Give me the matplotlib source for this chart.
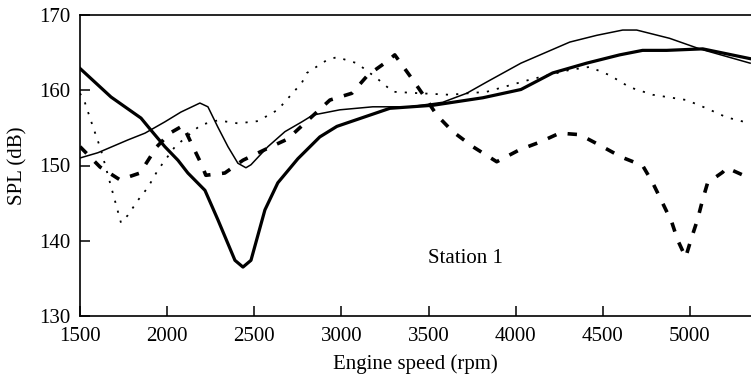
import matplotlib
matplotlib.use("Agg")
import matplotlib.pyplot as plt

# thick solid line
rpm_a = [1500, 1678, 1850, 1907, 1987, 2062, 2119, 2217, 2291, 2389, 2435, 2481,
         2561, 2635, 2750, 2876, 2974, 3278, 3524, 3811, 4030, 4212, 4407, 4596,
         4728, 4866, 5073, 5345]
spl_a = [162.9, 159.1, 156.3, 154.7, 152.5, 150.7, 149.0, 146.7, 142.8, 137.4, 136.5, 137.4,
         144.1, 147.7, 150.9, 153.8, 155.2, 157.6, 158.0, 159.0, 160.1, 162.3, 163.6, 164.7,
         165.3, 165.3, 165.5, 164.2]

# thin solid line
rpm_b = [1500, 1603, 1775, 1873, 1987, 2079, 2188, 2234, 2291, 2349, 2406, 2452, 2481,
         2578, 2676, 2773, 2836, 2991, 3180, 3392, 3581, 3719, 3834, 4030, 4310, 4465,
         4614, 4694, 4883, 5055, 5345]
spl_b = [151.0, 151.7, 153.4, 154.3, 155.8, 157.1, 158.3, 157.8, 155.1, 152.5, 150.3, 149.7, 150.1,
         152.5, 154.5, 155.8, 156.7, 157.4, 157.8, 157.8, 158.4, 159.6, 161.1, 163.6, 166.4, 167.3,
         168.0, 168.0, 166.9, 165.5, 163.6]

# dotted line
rpm_c = [1500, 1529, 1575, 1620, 1689, 1735, 1775, 1833, 1890, 1947, 2045, 2136, 2194,
         2291, 2406, 2521, 2635, 2773, 2802, 2916, 2974, 3088, 3203, 3295, 3450, 3622,
         3834, 4080, 4310, 4424, 4539, 4654, 4786, 4980, 5095, 5210, 5345]
spl_c = [159.6, 158.3, 155.1, 152.1, 146.3, 142.4, 143.4, 145.4, 147.1, 149.4, 152.5, 154.3, 155.4,
         156.0, 155.6, 155.9, 157.4, 161.0, 162.3, 164.0, 164.4, 163.6, 161.6, 159.8, 159.6, 159.4,
         159.8, 161.4, 162.7, 163.1, 162.0, 160.4, 159.4, 158.7, 157.6, 156.4, 155.6]

# thick dashed line
rpm_d = [1500, 1615, 1729, 1844, 1941, 2016, 2091, 2148, 2194, 2222, 2331, 2435, 2578,
         2690, 2779, 2934, 3060, 3151, 3260, 3306, 3409, 3490, 3547, 3639, 3754, 3891,
         4023, 4138, 4252, 4367, 4482, 4608, 4728, 4786, 4843, 4895, 4929, 4975, 5009,
         5043, 5072, 5101, 5187, 5210, 5345]
spl_d = [152.5, 149.8, 148.1, 149.0, 152.5, 154.3, 155.3, 152.5, 150.3, 148.7, 149.0, 150.7, 152.3,
         153.5, 155.4, 158.7, 159.6, 162.0, 163.8, 164.7, 161.4, 158.7, 156.7, 154.5, 152.5, 150.5,
         152.1, 153.1, 154.3, 154.1, 152.7, 151.1, 150.0, 147.7, 145.0, 142.5, 140.1, 137.8, 140.4,
         142.8, 145.4, 147.7, 149.1, 149.7, 148.3]

xticks = [1500, 2000, 2500, 3000, 3500, 4000, 4500, 5000]
yticks = [130, 140, 150, 160, 170]

plt.rcParams["font.family"] = ["Liberation Serif", "DejaVu Serif"]
plt.rcParams["font.size"] = 15

fig = plt.figure(figsize=(7.51, 3.76), dpi=100)
ax = fig.add_axes([80 / 751, 60 / 376, 1 - 80 / 751, 301 / 376])

ax.plot(rpm_a, spl_a, color="k", lw=2.3, solid_joinstyle="round")
ax.plot(rpm_b, spl_b, color="k", lw=1.1)
ax.plot(rpm_c, spl_c, color="k", lw=1.3, dashes=(1.2, 4.5))
ax.plot(rpm_d, spl_d, color="k", lw=2.6, dashes=(2.6, 3.2))

ax.text(3495, 137.6, "Station 1", ha="left", va="center", fontsize=15)

# aesthetics
ax.set_xlim(1500, 5350)
ax.set_ylim(130, 170)
ax.set_xticks(xticks)
ax.set_yticks(yticks)
ax.tick_params(direction="in", length=7, width=1.1, top=False, right=False)
ax.tick_params(axis="x", pad=8)
ax.tick_params(axis="y", pad=7)
ax.spines["right"].set_visible(False)
for side in ("left", "bottom", "top"):
    ax.spines[side].set_linewidth(1.2)
ax.set_xlabel("Engine speed (rpm)", labelpad=6)
ax.set_ylabel("SPL (dB)", labelpad=8)

fig.savefig("out.png", dpi=100)
